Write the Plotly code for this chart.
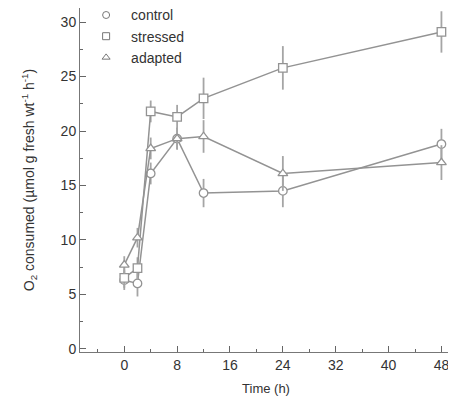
import plotly.graph_objects as go

time_h = [0, 2, 4, 8, 12, 24, 48]

control = [6.3, 6.0, 16.1, 19.3, 14.3, 14.5, 18.8]
control_err = [0.9, 1.2, 1.0, 1.0, 1.3, 1.5, 1.4]

stressed = [6.5, 7.4, 21.8, 21.3, 23.0, 25.8, 29.1]
stressed_err = [0.9, 1.0, 1.0, 1.1, 1.9, 2.0, 1.9]

adapted = [7.7, 10.2, 18.4, 19.3, 19.5, 16.1, 17.1]
adapted_err = [0.8, 0.9, 1.0, 1.0, 1.5, 1.6, 1.6]

series = [
    ("control", control, control_err, "circle-open"),
    ("stressed", stressed, stressed_err, "square-open"),
    ("adapted", adapted, adapted_err, "triangle-up-open"),
]

x_ticks = [0, 8, 16, 24, 32, 40, 48]
y_ticks = [0, 5, 10, 15, 20, 25, 30]

grey = "#939393"
fig = go.Figure()

for name, vals, err, sym in series:
    fig.add_trace(go.Scatter(
        x=time_h, y=vals, mode="lines+markers", showlegend=False,
        line=dict(color=grey, width=1.5),
        marker=dict(symbol=sym.replace("-open", ""), size=8.5, color="white",
                    line=dict(color=grey, width=1.3)),
        error_y=dict(type="data", array=err, color="#a5a5a5", thickness=1.8, width=0),
    ))

for name, vals, err, sym in series:
    fig.add_trace(go.Scatter(
        x=[None], y=[None], mode="markers", name=name,
        marker=dict(symbol=sym, size=7, color="#777777", line=dict(width=1)),
    ))

fig.update_layout(
    width=448, height=407,
    margin=dict(l=72, r=4, t=0, b=63, autoexpand=False),
    paper_bgcolor="white", plot_bgcolor="white",
    font=dict(family="Liberation Sans, Arial, sans-serif", size=14, color="#333333"),
    legend=dict(x=0.003, y=1.025, xanchor="left", yanchor="top",
                bgcolor="rgba(0,0,0,0)", font=dict(size=14, color="#333333"),
                tracegroupgap=2, itemwidth=40),
    xaxis=dict(
        range=[-6.7, 49.6], tickvals=x_ticks, ticktext=[str(v) for v in x_ticks],
        ticks="inside", ticklen=6, tickcolor="#666666", tickwidth=1,
        minor=dict(tickvals=[-4, 4, 12, 20, 28, 36, 44], ticks="inside", ticklen=3,
                   tickcolor="#666666"),
        showline=True, linecolor="#777777", linewidth=1, mirror=True,
        showgrid=False, zeroline=False,
        title=dict(text="Time (h)", font=dict(size=13), standoff=12),
        tickfont=dict(size=14),
    ),
    yaxis=dict(
        range=[-0.3, 31.3], tickvals=y_ticks,
        ticks="inside", ticklen=6, tickcolor="#666666", tickwidth=1,
        minor=dict(tickvals=[2.5, 7.5, 12.5, 17.5, 22.5, 27.5], ticks="inside", ticklen=3,
                   tickcolor="#666666"),
        showline=True, linecolor="#777777", linewidth=1, mirror=True,
        showgrid=False, zeroline=False,
        title=dict(text="O<sub>2</sub> consumed (µmol g fresh wt<sup>-1</sup> h<sup>-1</sup>)",
                   font=dict(size=14), standoff=22),
        tickfont=dict(size=14),
    ),
)

fig.write_html("out.html")
